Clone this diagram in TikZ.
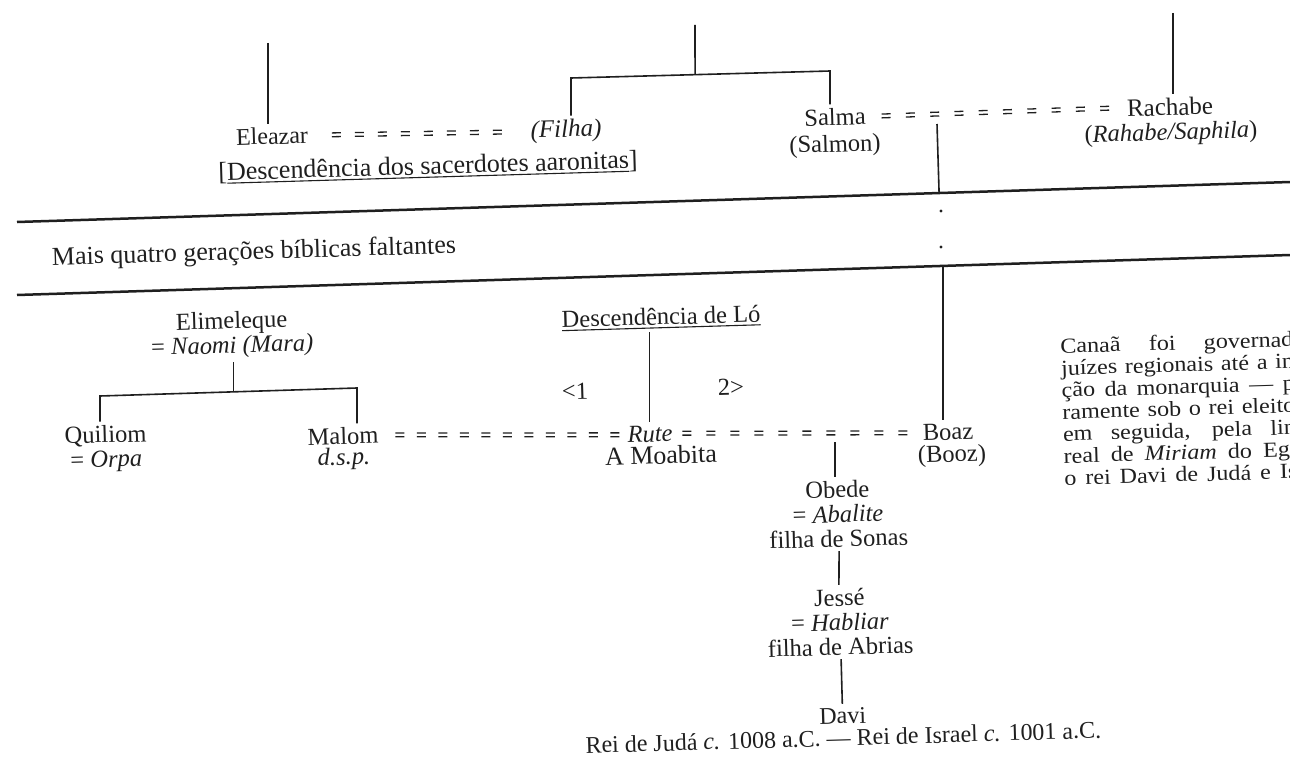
\documentclass[tikz,border=0pt]{standalone}
\usepackage{fontspec}
\setmainfont{Liberation Serif}
\usetikzlibrary{calc,decorations.markings}
\definecolor{ink}{HTML}{1F1F1F}
% thick underline that follows the current text colour
\newcommand{\uln}[1]{\setbox0=\hbox{#1}\rlap{\rule[-3.5pt]{\wd0}{1.1pt}}\box0}
\newcommand{\fs}[1]{\fontsize{#1}{#1}\selectfont}
% one justified, slightly widened line of the side note
\newcommand{\jline}[1]{\scalebox{1.12}[1]{\makebox[208pt][s]{#1}}}

\tikzset{
  t/.style={text=ink, inner sep=1pt, outer sep=3pt, rotate=1.7, font=\fs{24.5}},
  stack/.style={t, align=center},
  note/.style={text=ink, inner sep=0pt, rotate=1.7, align=left, font=\fontsize{21.5}{22}\selectfont},
  link/.style={draw=ink, line width=1.6pt},
  rule/.style={draw=ink, line width=2.5pt},
  % marriage line: a row of separate "=" signs, one every #1
  wed/.style={decoration={markings, mark=between positions 0 and 1 step #1 with {
      \draw[ink, line width=1.3pt] (0pt,1.9pt) -- (9pt,1.9pt) (0pt,-1.9pt) -- (9pt,-1.9pt);}},
      decorate},
  wed/.default=23pt,
  dot/.style={circle, fill=ink, inner sep=1.2pt},
}

\begin{document}
\begin{tikzpicture}[x=1pt, y=-1pt]
\useasboundingbox (0,0) rectangle (1290,773);
\clip (0,0) rectangle (1290,773);
\fill[white] (0,0) rectangle (1290,773);

% ---------- upper generation ----------
\node[t, font=\fs{24}] (eleazar) at (272,136) {Eleazar};
\node[t, font=\fs{25}] (filha) at (566,131) {\textit{(Filha)}};
\node[t, font=\fs{26}] (aaron) at (428,167) {[\uln{Descendência dos sacerdotes aaronitas}]};
\node[t] (salma) at (835,117) {Salma};
\node[t] (salmon) at (835,146) {(Salmon)};
\node[t, font=\fs{25}] (rachabe) at (1170,107) {Rachabe};
\node[t] (rahabe) at (1171,134) {(\textit{Rahabe/Saphila})};

\coordinate (eltop) at (268,43);
\draw[link] (eltop) -- (eltop |- eleazar.north);

\coordinate (fbtop) at (695,25);
\coordinate (fbl) at (571,78);
\coordinate (fbr) at (830,71);
\draw[link] (fbl |- filha.north) -- (fbl) -- (fbr) -- (fbr |- salma.north);
\draw[link] (fbtop) -- ($(fbl)!0.479!(fbr)$);

\coordinate (rctop) at (1173,13);
\draw[link] (rctop) -- (rctop |- rachabe.north);

\path[wed=23pt] ([xshift=20pt]eleazar.east) -- ([xshift=-28pt]filha.west);
\path[wed=24.3pt] ([xshift=12pt]salma.east) -- ([xshift=-20pt]rachabe.west);

% ---------- the gap of missing generations ----------
\coordinate (r1a) at (17,222);
\coordinate (r1b) at (1290,182);
\coordinate (r2a) at (17,295);
\coordinate (r2b) at (1290,255);
\draw[rule] (r1a) -- (r1b);
\draw[rule] (r2a) -- (r2b);
\node[t, anchor=west, font=\fs{26}] (gap) at (48,259) {Mais quatro gerações bíblicas faltantes};

\coordinate (srdrop) at (937,124);
\draw[link] (srdrop) -- ($(r1a)!(srdrop)!(r1b)$);
\node[dot] (dot1) at (941,211) {};
\node[dot] (dot2) at (941,247) {};

% ---------- lower generations ----------
\node[stack] (elim) at (232,335) {Elimeleque\\= \textit{Naomi (Mara)}};
\node[stack] (quiliom) at (106,449) {Quiliom\\= \textit{Orpa}};
\node[t] (malom) at (343,436) {Malom};
\node[t] (dsp) at (344,459) {\textit{d.s.p.}};

\coordinate (ebl) at (100,396);
\coordinate (ebr) at (357,388);
\coordinate (ebm) at ($(ebl)!0.52!(ebr)$);
\draw[link] (ebm |- elim.south) -- (ebm);
\draw[link] (ebl |- quiliom.north) -- (ebl) -- (ebr) -- (ebr |- malom.north);

\node[t] (lo) at (661,318) {\uln{Descendência de Ló}};
\node[t] (one) at (575,391) {<1};
\node[t] (two) at (731,387) {2>};
\node[t] (rute) at (650,434) {\textit{Rute}};
\node[t, font=\fs{26}] (moab) at (661,455) {A Moabita};
\node[t] (boaz) at (948,432) {Boaz};
\node[t] (booz) at (952,456) {(Booz)};

\draw[link] (rute.north |- lo.south) -- (rute.north);
\path[wed=21.5pt] ([xshift=13pt]malom.east) -- ([xshift=-10pt]rute.west);
\path[wed=24pt] ([xshift=6pt]rute.east) -- ([xshift=-14pt]boaz.west);

\coordinate (gapbot) at (943,266);
\draw[link] (gapbot) -- (gapbot |- boaz.north);

% ---------- line of David ----------
\node[stack] (obede) at (838,514) {Obede\\= \textit{Abalite}\\filha de Sonas};
\node[stack] (jesse) at (840,622) {Jessé\\= \textit{Habliar}\\filha de Abrias};
\node[stack, font=\fontsize{24}{22}\selectfont] (davi) at (843,727)
  {Davi\\Rei de Judá \textit{c.} 1008 a.C. — Rei de Israel \textit{c.} 1001 a.C.};

\coordinate (rbdrop) at (835,442);
\draw[link] (rbdrop) -- (rbdrop |- obede.north);
\draw[link] (obede.south) -- (jesse.north);
\draw[link] (jesse.south) -- (davi.north);

% ---------- side note ----------
\node[note, anchor=north west] (canaa) at (1060,338) {%
  \jline{Canaã foi governad}\\
  \jline{juízes regionais até a in}\\
  \jline{ção da monarquia — p}\\
  \jline{ramente sob o rei eleito}\\
  \jline{em seguida, pela lin}\\
  \jline{real de \textit{Miriam} do Egi}\\
  \jline{o rei Davi de Judá e Is}};
\end{tikzpicture}
\end{document}
